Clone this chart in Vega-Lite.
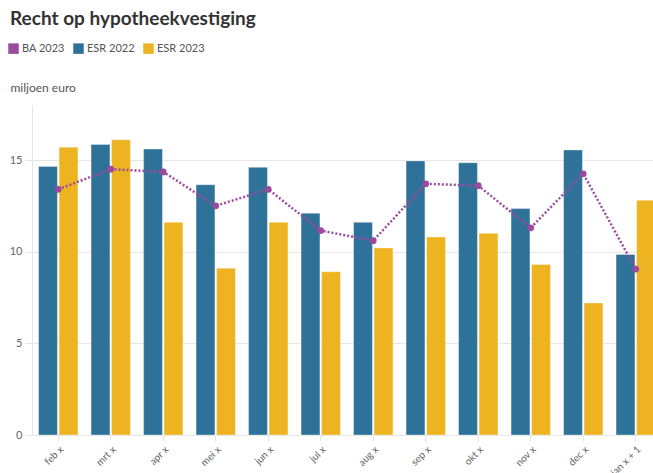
{
  "$schema": "https://vega.github.io/schema/vega-lite/v6.json",
  "autosize": "none",
  "width": 621,
  "height": 330,
  "padding": {"left": 32, "top": 105, "right": 0, "bottom": 38},
  "background": "white",
  "title": {
    "text": "Recht op hypotheekvestiging",
    "anchor": "start",
    "orient": "top",
    "frame": "group",
    "dx": -22,
    "offset": 14,
    "font": "Lato",
    "fontSize": 19,
    "fontWeight": "bold",
    "color": "#333333"
  },
  "config": {
    "view": {"stroke": null},
    "font": "Lato",
    "axis": {"labelFont": "Lato", "titleFont": "Lato"}
  },
  "data": {
    "values": [
      {"maand": "feb x", "serie": "ESR 2022", "waarde": 14.65},
      {"maand": "feb x", "serie": "ESR 2023", "waarde": 15.7},
      {"maand": "feb x", "serie": "BA 2023", "waarde": 13.4},
      {"maand": "mrt x", "serie": "ESR 2022", "waarde": 15.85},
      {"maand": "mrt x", "serie": "ESR 2023", "waarde": 16.1},
      {"maand": "mrt x", "serie": "BA 2023", "waarde": 14.5},
      {"maand": "apr x", "serie": "ESR 2022", "waarde": 15.6},
      {"maand": "apr x", "serie": "ESR 2023", "waarde": 11.6},
      {"maand": "apr x", "serie": "BA 2023", "waarde": 14.35},
      {"maand": "mei x", "serie": "ESR 2022", "waarde": 13.65},
      {"maand": "mei x", "serie": "ESR 2023", "waarde": 9.1},
      {"maand": "mei x", "serie": "BA 2023", "waarde": 12.5},
      {"maand": "jun x", "serie": "ESR 2022", "waarde": 14.6},
      {"maand": "jun x", "serie": "ESR 2023", "waarde": 11.6},
      {"maand": "jun x", "serie": "BA 2023", "waarde": 13.4},
      {"maand": "jul x", "serie": "ESR 2022", "waarde": 12.1},
      {"maand": "jul x", "serie": "ESR 2023", "waarde": 8.9},
      {"maand": "jul x", "serie": "BA 2023", "waarde": 11.15},
      {"maand": "aug x", "serie": "ESR 2022", "waarde": 11.6},
      {"maand": "aug x", "serie": "ESR 2023", "waarde": 10.2},
      {"maand": "aug x", "serie": "BA 2023", "waarde": 10.6},
      {"maand": "sep x", "serie": "ESR 2022", "waarde": 14.95},
      {"maand": "sep x", "serie": "ESR 2023", "waarde": 10.8},
      {"maand": "sep x", "serie": "BA 2023", "waarde": 13.7},
      {"maand": "okt x", "serie": "ESR 2022", "waarde": 14.85},
      {"maand": "okt x", "serie": "ESR 2023", "waarde": 11.0},
      {"maand": "okt x", "serie": "BA 2023", "waarde": 13.6},
      {"maand": "nov x", "serie": "ESR 2022", "waarde": 12.35},
      {"maand": "nov x", "serie": "ESR 2023", "waarde": 9.3},
      {"maand": "nov x", "serie": "BA 2023", "waarde": 11.3},
      {"maand": "dec x", "serie": "ESR 2022", "waarde": 15.55},
      {"maand": "dec x", "serie": "ESR 2023", "waarde": 7.2},
      {"maand": "dec x", "serie": "BA 2023", "waarde": 14.25},
      {"maand": "jan x + 1", "serie": "ESR 2022", "waarde": 9.85},
      {"maand": "jan x + 1", "serie": "ESR 2023", "waarde": 12.8},
      {"maand": "jan x + 1", "serie": "BA 2023", "waarde": 9.05}
    ]
  },
  "encoding": {
    "x": {
      "field": "maand",
      "type": "nominal",
      "sort": null,
      "scale": {"range": [0, 630], "paddingInner": 0.25, "paddingOuter": 0.125},
      "axis": {
        "title": null,
        "labelAngle": -45,
        "labelAlign": "right",
        "labelBaseline": "top",
        "labelFontSize": 10,
        "labelColor": "#666666",
        "labelPadding": 3,
        "domain": false,
        "ticks": true,
        "tickColor": "#e6e6e6",
        "tickSize": 6,
        "grid": false
      }
    },
    "y": {
      "field": "waarde",
      "type": "quantitative",
      "scale": {"domain": [0, 18], "nice": false},
      "axis": {
        "title": "miljoen euro",
        "titleAngle": 0,
        "titleAlign": "left",
        "titleBaseline": "middle",
        "titleX": -22,
        "titleY": -18,
        "titleFontSize": 12,
        "titleFontWeight": "normal",
        "titleColor": "#555555",
        "values": [0, 5, 10, 15],
        "labelFontSize": 11,
        "labelColor": "#666666",
        "labelPadding": 3,
        "tickSize": 7,
        "tickColor": "#e6e6e6",
        "gridColor": "#e6e6e6",
        "domain": true,
        "domainColor": "#e6e6e6"
      }
    },
    "color": {
      "field": "serie",
      "type": "nominal",
      "scale": {
        "domain": ["BA 2023", "ESR 2022", "ESR 2023"],
        "range": ["#9b4a9e", "#2f7299", "#edb320"]
      },
      "legend": {
        "title": null,
        "orient": "none",
        "direction": "horizontal",
        "legendX": -24,
        "legendY": -62,
        "symbolType": "square",
        "symbolSize": 110,
        "symbolStrokeWidth": 0,
        "labelFontSize": 11,
        "labelColor": "#555555",
        "labelOffset": 3,
        "columnPadding": 8
      }
    }
  },
  "layer": [
    {
      "transform": [{"filter": "datum.serie !== 'BA 2023'"}],
      "mark": {"type": "bar", "stroke": "#ffffff", "strokeOpacity": 0.35, "strokeWidth": 1},
      "encoding": {
        "xOffset": {"field": "serie", "type": "nominal", "scale": {"paddingInner": 0.08}}
      }
    },
    {
      "transform": [{"filter": "datum.serie === 'BA 2023'"}],
      "mark": {"type": "line", "strokeDash": [2, 2], "strokeWidth": 2.5, "point": {"size": 45, "filled": true}},
      "encoding": {}
    }
  ]
}
